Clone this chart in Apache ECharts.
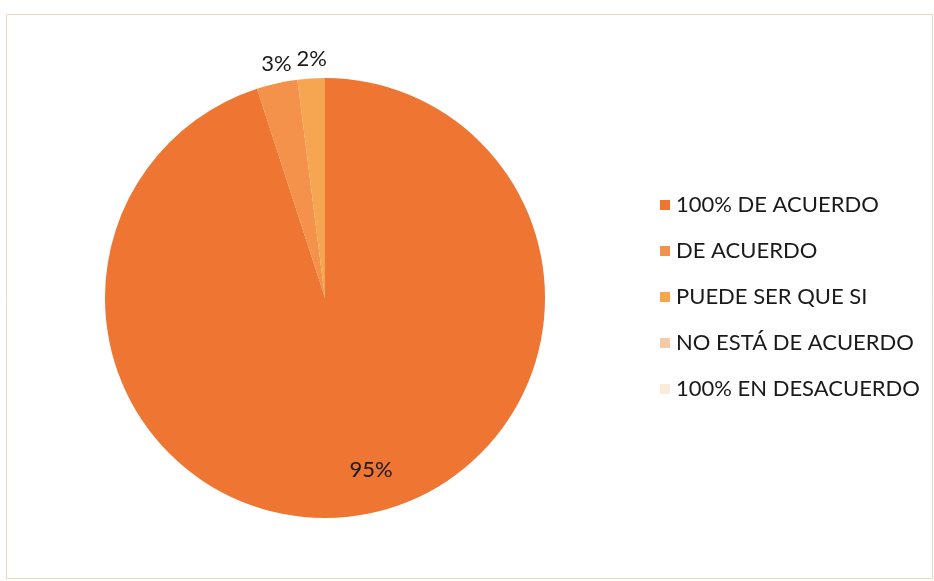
<!DOCTYPE html>
<html>
<head>
<meta charset="utf-8">
<script src="https://cdn.jsdelivr.net/npm/echarts@6/dist/echarts.min.js"></script>
<style>
  html, body { margin: 0; padding: 0; background: #ffffff; }
  #chart { width: 934px; height: 581px; }
</style>
</head>
<body>
<div id="chart"></div>
<script>
// Survey answers and their share of responses (percent)
const categories = ['100% DE ACUERDO', 'DE ACUERDO', 'PUEDE SER QUE SI', 'NO ESTÁ DE ACUERDO', '100% EN DESACUERDO'];
const values = [95, 3, 2, 0, 0];
const colors = ['#ee7532', '#f4914a', '#f6a650', '#f4cba6', '#fbecd9'];

const FONT = 'Lato, "Open Sans", sans-serif';
const CENTER = [325, 298];
const RADIUS = 220;

const chart = echarts.init(document.getElementById('chart'), null, { renderer: 'canvas' });

const pieData = categories.map((name, i) => {
  const item = { name: name, value: values[i], itemStyle: { color: colors[i] } };
  if (values[i] === 0) {
    item.label = { show: false };
    item.labelLine = { show: false };
  } else if (i === 0) {
    item.label = { position: 'inside' };
  } else {
    item.label = { position: 'outside', distanceToLabelLine: 0 };
    item.labelLine = { show: false, length: 6, length2: 0 };
  }
  return item;
});

chart.setOption({
  animation: false,
  backgroundColor: '#ffffff',
  graphic: [{
    type: 'rect',
    shape: { x: 6.5, y: 14.5, width: 926, height: 564 },
    style: { fill: 'none', stroke: '#e9d9bf', lineWidth: 1 },
    silent: true
  }],
  legend: {
    orient: 'vertical',
    left: 655,
    top: 189,
    itemWidth: 10,
    itemHeight: 10,
    itemGap: 24,
    icon: 'rect',
    textStyle: { fontFamily: FONT, fontSize: 22, color: '#1a1a1a', padding: [0, 0, 0, 1] },
    data: categories
  },
  series: [{
    type: 'pie',
    center: CENTER,
    radius: RADIUS,
    startAngle: 90,
    clockwise: true,
    avoidLabelOverlap: false,
    minShowLabelAngle: 0,
    itemStyle: { borderWidth: 0 },
    emphasis: { disabled: true },
    label: {
      show: true,
      formatter: '{d}%',
      fontFamily: FONT,
      fontSize: 22,
      color: '#1a1a1a'
    },
    labelLayout: function (params) {
      if (params.dataIndex === 0) {
        // push the big slice's label out toward the rim, below the centre
        const cx = params.rect.x + params.rect.width / 2;
        const cy = params.rect.y + params.rect.height / 2;
        return { x: cx + 46, y: cy + 172, align: 'center', verticalAlign: 'middle' };
      }
      // small slices: lift their labels a little clear of the rim
      return { dx: 16, dy: -14 };
    },
    data: pieData
  }]
});
</script>
</body>
</html>
